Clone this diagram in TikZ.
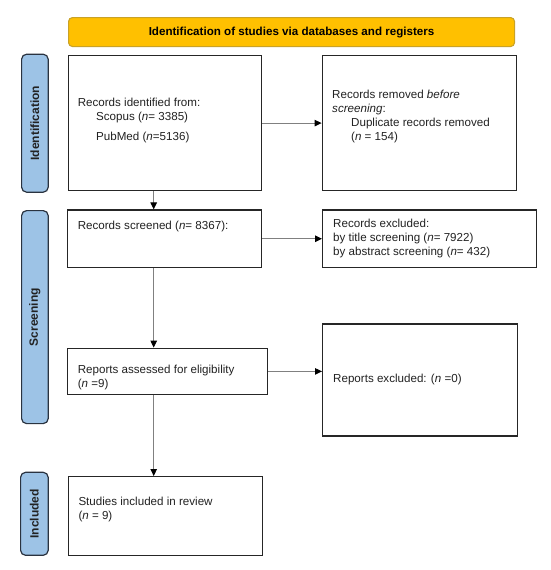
\documentclass[tikz,border=0pt]{standalone}
\usepackage{fontspec}
\setmainfont{Liberation Sans}
\usetikzlibrary{arrows.meta}
\definecolor{bannerfill}{HTML}{FFC000}
\definecolor{bannerdraw}{HTML}{C9A227}
\definecolor{sidefill}{HTML}{9DC3E6}
\definecolor{sidedraw}{HTML}{2A3340}
\definecolor{txt}{HTML}{222222}
\definecolor{connc}{HTML}{808080}
\begin{document}
\begin{tikzpicture}[x=1pt,y=-1pt,
  box/.style={draw=black!85, line width=1.2pt, fill=white, inner sep=0pt, anchor=north west},
  banner/.style={draw=bannerdraw, line width=1.1pt, fill=bannerfill, rounded corners=4pt, inner sep=0pt, anchor=north west},
  side/.style={draw=sidedraw, line width=1.2pt, fill=sidefill, rounded corners=5pt, inner sep=0pt, anchor=north west},
  sidetext/.style={rotate=90, font=\fontsize{12}{14}\selectfont\bfseries, text=txt, inner sep=0pt},
  boxtext/.style={anchor=north west, align=left, inner sep=0pt, text=txt, font=\fontsize{11.6}{14}\selectfont},
  conn/.style={draw=connc, line width=0.9pt, -{Triangle[length=7pt,width=6.5pt,color=black]}}
]
\useasboundingbox (0,0) rectangle (550,570);

% banner
\node[banner, minimum width=446pt, minimum height=29pt] (ban) at (68,17) {};
\node[text=black, inner sep=0pt, font=\fontsize{11.6}{14}\selectfont\bfseries] (bantext) at (ban.center) {Identification of studies via databases and registers};

% side labels
\node[side, minimum width=26.6pt, minimum height=138pt] (sid) at (21,53.6) {};
\node[sidetext] (sidt) at (sid.center) {Identification};
\node[side, minimum width=26.6pt, minimum height=213pt] (sscr) at (21,210) {};
\node[sidetext] (sscrt) at (sscr.center) {Screening};
\node[side, minimum width=27.6pt, minimum height=83pt] (sinc) at (20,471.7) {};
\node[sidetext] (sinct) at (sinc.center) {Included};

% boxes
\node[box, minimum width=193pt, minimum height=135pt] (b1) at (68,55) {};
\node[box, minimum width=194pt, minimum height=135pt] (b2) at (321.6,55) {};
\node[box, minimum width=194pt, minimum height=57.5pt] (b3) at (67,209.4) {};
\node[box, minimum width=214pt, minimum height=57.5pt] (b4) at (322,209.4) {};
\node[box, minimum width=200pt, minimum height=46.4pt] (b5) at (67,347.6) {};
\node[box, minimum width=194.6pt, minimum height=112pt] (b6) at (322,323.3) {};
\node[box, minimum width=194pt, minimum height=78.5pt] (b7) at (68,476) {};

% texts
\node[boxtext] (t1) at (77.6,97.5) {Records identified from:\\
\hspace*{18.4pt}Scopus (\textit{n}= 3385)\\[6pt]
\hspace*{18.4pt}PubMed (\textit{n}=5136)};
\node[boxtext] (t2) at (332,90) {Records removed \textit{before}\\
\textit{screening}:\\
\hspace*{19pt}Duplicate records removed\\
\hspace*{19pt}(\textit{n} = 154)};
\node[boxtext] (t3) at (77.6,220.8) {Records screened (\textit{n}= 8367):};
\node[boxtext] (t4) at (333,219) {Records excluded:\\
by title screening (\textit{n}= 7922)\\
by abstract screening (\textit{n}= 432)};
\node[boxtext] (t5) at (77.6,365.3) {Reports assessed for eligibility\\
(\textit{n} =9)};
\node[boxtext] (t6) at (333,373.5) {Reports excluded: (\textit{n} =0)};
\node[boxtext] (t7) at (78.3,496.5) {Studies included in review\\
(\textit{n} = 9)};

% connectors
\coordinate (ax) at (153.7,0);
\draw[conn] (b1.south -| ax) -- (b3.north -| ax);
\draw[conn] (b3.south -| ax) -- (b5.north -| ax);
\draw[conn] (b5.south -| ax) -- (b7.north -| ax);
\draw[conn] (b1.east) -- (b2.west);
\draw[conn] (b3.east) -- (b4.west);
\draw[conn] (b5.east) -- (b5.east -| b6.west);
\end{tikzpicture}
\end{document}
